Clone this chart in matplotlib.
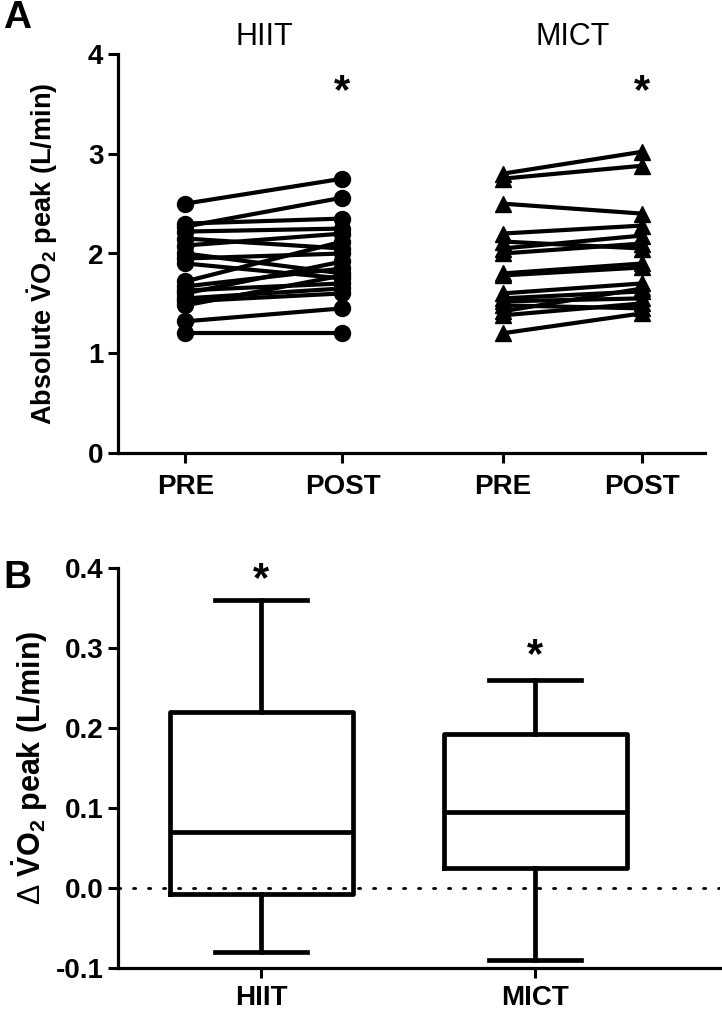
import matplotlib

matplotlib.use("Agg")
import matplotlib.pyplot as plt

plt.rcParams["font.family"] = ["Liberation Sans", "DejaVu Sans"]
plt.rcParams["mathtext.fontset"] = "custom"
plt.rcParams["mathtext.rm"] = "Liberation Sans"
plt.rcParams["mathtext.bf"] = "Liberation Sans:bold"
plt.rcParams["mathtext.it"] = "Liberation Sans:italic"
plt.rcParams["axes.unicode_minus"] = False

# Panel A: individual absolute VO2 peak (L/min), PRE -> POST
hiit_pre = [2.50, 2.30, 2.27, 2.22, 2.15, 2.08, 2.00, 1.95, 1.90, 1.72,
            1.67, 1.63, 1.60, 1.55, 1.52, 1.48, 1.32, 1.20]
hiit_post = [2.75, 2.35, 2.56, 2.25, 2.05, 2.20, 1.80, 2.00, 1.75, 2.12,
             1.85, 1.70, 1.92, 1.65, 1.60, 1.78, 1.45, 1.20]
mict_pre = [2.80, 2.75, 2.50, 2.20, 2.12, 2.05, 2.00, 1.80, 1.78, 1.60,
            1.55, 1.52, 1.48, 1.42, 1.38, 1.20]
mict_post = [3.02, 2.88, 2.40, 2.28, 2.05, 2.18, 2.10, 1.90, 1.86, 1.70,
             1.62, 1.55, 1.45, 1.65, 1.50, 1.40]
time_labels = ["PRE", "POST", "PRE", "POST"]
group_labels = ["HIIT", "MICT"]

# Panel B: change in VO2 peak, box summary (whislo, q1, med, q3, whishi)
delta_hiit = [-0.08, -0.008, 0.07, 0.22, 0.36]
delta_mict = [-0.09, 0.025, 0.095, 0.192, 0.26]

W, H = 722, 1010
fig = plt.figure(figsize=(W / 100, H / 100), dpi=100)


def frac(x0, y0, x1, y1):
    return [x0 / W, 1 - y1 / H, (x1 - x0) / W, (y1 - y0) / H]


def style_axes(ax):
    for side in ("top", "right"):
        ax.spines[side].set_visible(False)
    for side in ("left", "bottom"):
        ax.spines[side].set_linewidth(2.3)
    ax.tick_params(width=2.2, length=7, labelsize=20)
    for lab in ax.get_xticklabels() + ax.get_yticklabels():
        lab.set_fontweight("bold")


# ---- Panel A ----
ax1 = fig.add_axes(frac(118, 54, 705, 453))
pos_a = [0.43, 1.43, 2.45, 3.34]
for pre, post in zip(hiit_pre, hiit_post):
    ax1.plot(pos_a[0:2], [pre, post], color="black", lw=3, marker="o",
             ms=11.5, clip_on=False)
for pre, post in zip(mict_pre, mict_post):
    ax1.plot(pos_a[2:4], [pre, post], color="black", lw=3, marker="^",
             ms=12, clip_on=False)
ax1.set_xlim(0, 3.74)
ax1.set_ylim(0, 4)
ax1.set_yticks([0, 1, 2, 3, 4])
ax1.set_xticks(pos_a)
ax1.set_xticklabels(time_labels)
ax1.set_ylabel(r"Absolute $\mathbf{\dot{V}}$O$_\mathbf{2}$ peak (L/min)",
               fontsize=19.5, fontweight="bold", labelpad=20)
style_axes(ax1)
ax1.tick_params(axis="x", pad=8)
ax1.text((pos_a[0] + pos_a[1]) / 2, 4.17, group_labels[0], ha="center",
         va="center", fontsize=22)
ax1.text((pos_a[2] + pos_a[3]) / 2, 4.17, group_labels[1], ha="center",
         va="center", fontsize=22)
for x in (pos_a[1], pos_a[3]):
    ax1.text(x, 3.62, "*", ha="center", va="center", fontsize=30,
             fontweight="bold")

# ---- Panel B ----
ax2 = fig.add_axes(frac(118, 568, 720, 968))
stats = []
for name, d in zip(group_labels, [delta_hiit, delta_mict]):
    stats.append(dict(label=name, whislo=d[0], q1=d[1], med=d[2],
                      q3=d[3], whishi=d[4], fliers=[]))
pos_b = [0.522, 1.522]
line_kw = dict(color="black", linewidth=3.4)
ax2.bxp(stats, positions=pos_b, widths=0.668, capwidths=0.336,
        showfliers=False, boxprops=line_kw, whiskerprops=line_kw,
        capprops=line_kw, medianprops=line_kw)
ax2.axhline(0, color="black", lw=2.0, linestyle=(0, (0.8, 4.6)),
            dash_capstyle="round", zorder=0)
ax2.set_xlim(0, 2.197)
ax2.set_ylim(-0.1, 0.4)
ax2.set_yticks([-0.1, 0.0, 0.1, 0.2, 0.3, 0.4])
ax2.set_yticklabels(["-0.1", "0.0", "0.1", "0.2", "0.3", "0.4"])
ax2.set_xticks(pos_b)
ax2.set_xticklabels(group_labels)
ax2.set_ylabel(r"$\Delta$ $\mathbf{\dot{V}}$O$_\mathbf{2}$ peak (L/min)",
               fontsize=22, fontweight="bold", labelpad=4)
style_axes(ax2)
ax2.tick_params(axis="x", pad=5)
ax2.text(pos_b[0], 0.385, "*", ha="center", va="center", fontsize=30,
         fontweight="bold")
ax2.text(pos_b[1], 0.29, "*", ha="center", va="center", fontsize=30,
         fontweight="bold")

fig.text(17 / W, 1 - 18 / H, "A", ha="center", va="center", fontsize=28,
         fontweight="bold")
fig.text(17 / W, 1 - 578 / H, "B", ha="center", va="center", fontsize=28,
         fontweight="bold")

fig.savefig("out.png", dpi=100)
